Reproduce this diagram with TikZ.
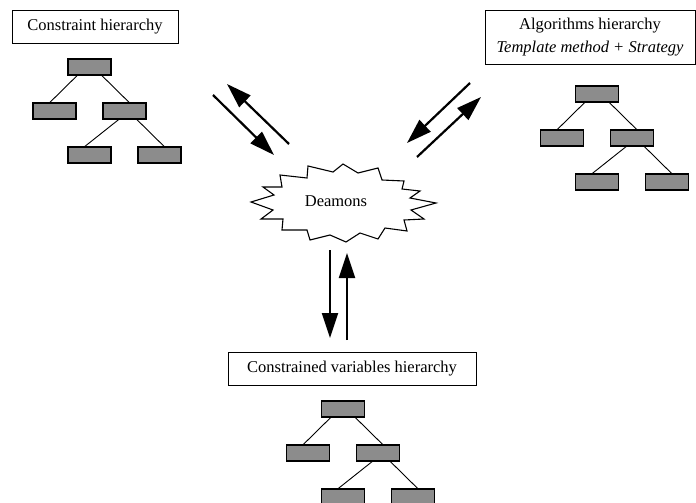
\documentclass[tikz,border=0pt]{standalone}
\usepackage{fontspec}
\setmainfont{Liberation Serif}
\usetikzlibrary{arrows.meta}
\definecolor{boxgray}{RGB}{140,140,140}
\tikzset{
  leaf/.style={draw=black, line width=1.4pt, fill=boxgray, minimum width=43pt, minimum height=16pt, inner sep=0pt},
  labelbox/.style={draw=black, line width=0.9pt, fill=white, inner sep=0pt, font=\fontsize{16.5}{23}\selectfont, align=center},
  edge/.style={line width=0.9pt},
  bigarrow/.style={line width=2.2pt, -{Triangle[length=25pt,width=16pt]}}
}
\newcommand{\hiertree}[3]{%
  \node[leaf] (#1t)  at (#2,#3) {};
  \node[leaf] (#1l)  at (#2-35,#3+44) {};
  \node[leaf] (#1r)  at (#2+35,#3+44) {};
  \node[leaf] (#1rl) at (#2,#3+88) {};
  \node[leaf] (#1rr) at (#2+70,#3+88) {};
  \draw[edge] ([xshift=-12.5pt]#1t.south) -- ([xshift=-4.5pt]#1l.north);
  \draw[edge] ([xshift=12.5pt]#1t.south) -- ([xshift=4.5pt]#1r.north);
  \draw[edge] ([xshift=-6pt]#1r.south) -- ([xshift=-4.5pt]#1rl.north);
  \draw[edge] ([xshift=12.5pt]#1r.south) -- ([xshift=4.5pt]#1rr.north);
}
\begin{document}
\begin{tikzpicture}[x=1pt,y=-1pt]
\useasboundingbox (0,0) rectangle (696,503);
\fill[white] (0,0) rectangle (696,503);

% label boxes
\node[labelbox, minimum width=166pt, minimum height=33pt] (lbl1) at (95,26.5) {Constraint hierarchy};
\node[labelbox, minimum width=210pt, minimum height=54pt] (lbl2) at (590,37) {Algorithms hierarchy\\\textit{Template method + Strategy}};
\node[labelbox, minimum width=248pt, minimum height=33pt] (lbl3) at (352,368.5) {Constrained variables hierarchy};

% trees
\hiertree{a}{89.5}{67}
\hiertree{b}{597}{94}
\hiertree{c}{343}{409}

% starburst
\draw[line width=1.1pt, fill=white]
  (343,164) -- (358,173) -- (378,168) -- (382,180) -- (404,181) -- (402,189) --
  (420,191) -- (410,198) -- (436,203) -- (411,210) -- (424,219) -- (404,220) --
  (407,231) -- (385,228) -- (378,239) -- (360,233) -- (346,242) -- (330,235) --
  (310,240) -- (307,230) -- (282,230) -- (283,219) -- (261,219) -- (273,210) --
  (251,202) -- (274,195) -- (263,187) -- (282,187) -- (280,175) -- (307,178) --
  (308,166) -- (333,172) -- cycle;
\node[font=\fontsize{16.5}{20}\selectfont, inner sep=0pt] (dm) at (336,201) {Deamons};

% arrow end points
\coordinate (a1s) at (213,95);  \coordinate (a1e) at (274,155);
\coordinate (a2s) at (289,144); \coordinate (a2e) at (227,84);
\coordinate (a3s) at (470,83);  \coordinate (a3e) at (407,143);
\coordinate (a4s) at (417,157); \coordinate (a4e) at (481,97);
\coordinate (a5s) at (330,250); \coordinate (a5e) at (330,338);
\coordinate (a6s) at (347,340); \coordinate (a6e) at (347,253);

\draw[bigarrow] (a1s) -- (a1e);
\draw[bigarrow] (a2s) -- (a2e);
\draw[bigarrow] (a3s) -- (a3e);
\draw[bigarrow] (a4s) -- (a4e);
\draw[bigarrow] (a5s) -- (a5e);
\draw[bigarrow] (a6s) -- (a6e);
\end{tikzpicture}
\end{document}
